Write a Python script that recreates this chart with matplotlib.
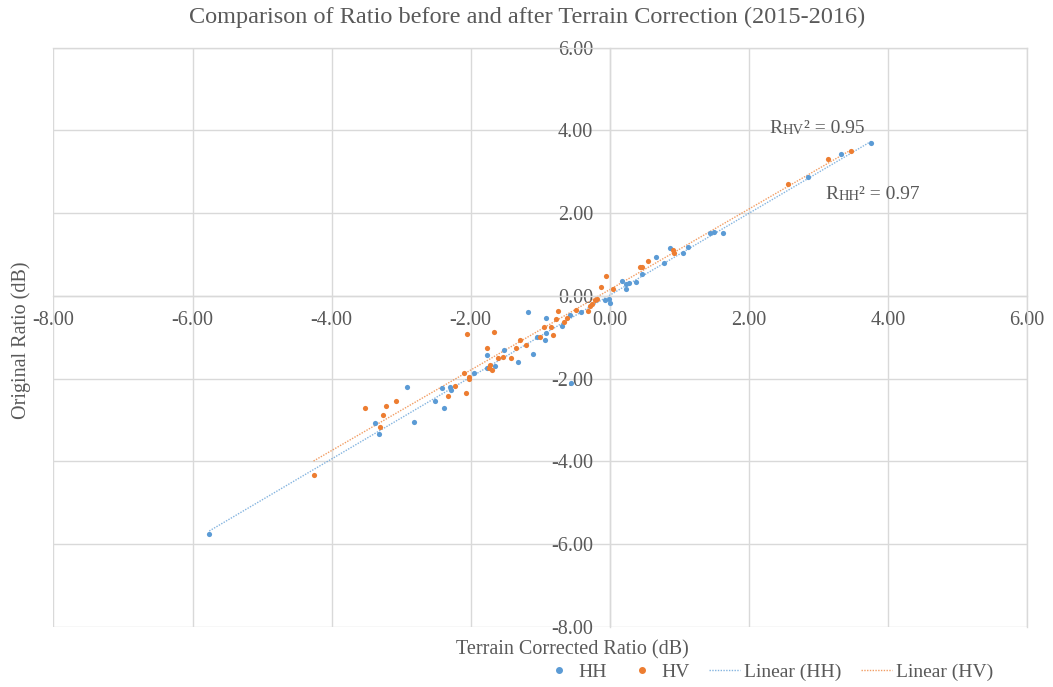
import numpy as np
import matplotlib
matplotlib.use("Agg")
import matplotlib.pyplot as plt
from matplotlib.lines import Line2D
from matplotlib.ticker import MultipleLocator, FuncFormatter

# Terrain corrected ratio (x) vs original ratio (y), dB
hh_x = [-5.76, -3.32, -3.38, -2.82, -2.91, -2.51, -2.38, -2.42, -2.30, -2.29,
        -1.95, -1.76, -1.65, -1.77, -1.52, -1.32, -1.10, -1.17, -1.05, -0.93,
        -0.91, -0.92, -0.69, -0.57, -0.41, -0.56, -0.07, -0.01, 0.00, 0.17,
        0.24, 0.24, 0.27, 0.37, 0.47, 0.67, 0.78, 0.87, 1.05, 1.13,
        1.44, 1.50, 1.63, 2.85, 3.32, 3.76]
hh_y = [-5.75, -3.33, -3.08, -3.05, -2.21, -2.53, -2.71, -2.23, -2.19, -2.28,
        -1.87, -1.74, -1.70, -1.42, -1.30, -1.59, -1.40, -0.39, -1.00, -1.06,
        -0.90, -0.54, -0.72, -0.46, -0.38, -2.11, -0.10, -0.07, -0.17, 0.37,
        0.29, 0.16, 0.32, 0.34, 0.52, 0.95, 0.79, 1.16, 1.03, 1.18,
        1.51, 1.55, 1.51, 2.88, 3.43, 3.70]

hv_x = [-4.26, -3.52, -3.30, -3.26, -3.22, -3.07, -2.32, -2.22, -2.07, -2.10,
        -2.02, -2.02, -2.06, -1.67, -1.77, -1.72, -1.69, -1.74, -1.61, -1.54,
        -1.42, -1.35, -1.29, -1.21, -1.00, -0.94, -0.84, -0.81, -0.77, -0.74,
        -0.66, -0.62, -0.48, -0.31, -0.28, -0.26, -0.21, -0.18, -0.12, -0.06,
        0.04, 0.43, 0.46, 0.55, 0.91, 0.93, 2.57, 3.14, 3.47]
hv_y = [-4.32, -2.71, -3.16, -2.87, -2.66, -2.53, -2.42, -2.18, -2.34, -1.87,
        -1.95, -2.00, -0.92, -0.87, -1.26, -1.66, -1.79, -1.75, -1.51, -1.48,
        -1.51, -1.26, -1.06, -1.19, -1.00, -0.74, -0.76, -0.94, -0.55, -0.36,
        -0.64, -0.53, -0.33, -0.37, -0.24, -0.20, -0.10, -0.08, 0.21, 0.47,
        0.16, 0.69, 0.71, 0.85, 1.11, 1.03, 2.71, 3.31, 3.50]

r2_hh = 0.97
r2_hv = 0.95

title = "Comparison of Ratio before and after Terrain Correction (2015-2016)"
x_title = "Terrain Corrected Ratio (dB)"
y_title = "Original Ratio (dB)"

BLUE = "#5B9BD5"
ORANGE = "#ED7D31"
TEXT = "#595959"
GRID = "#D9D9D9"

plt.rcParams["font.family"] = ["Liberation Serif", "DejaVu Serif"]

fig = plt.figure(figsize=(10.53, 6.87), dpi=100)
ax = fig.add_axes([0.0508, 0.0873, 0.9245, 0.8434])

ax.set_xlim(-8, 6)
ax.set_ylim(-8, 6)
ax.xaxis.set_major_locator(MultipleLocator(2))
ax.yaxis.set_major_locator(MultipleLocator(2))
fmt = FuncFormatter(lambda v, p: f"{v:.2f}")
ax.xaxis.set_major_formatter(fmt)
ax.yaxis.set_major_formatter(fmt)

ax.grid(True, color=GRID, lw=1.0)
ax.set_axisbelow(True)
for side in ("left", "bottom"):
    ax.spines[side].set_position(("data", 0))
    ax.spines[side].set_color(GRID)
    ax.spines[side].set_linewidth(1.0)
for side in ("top", "right"):
    ax.spines[side].set_color(GRID)
    ax.spines[side].set_linewidth(1.0)

ax.tick_params(axis="both", length=0, labelsize=14.5, labelcolor=TEXT)
ax.tick_params(axis="y", pad=12)
ax.tick_params(axis="x", pad=11)

# scatter series
ax.scatter(hh_x, hh_y, s=14, color=BLUE, zorder=3, linewidths=0)
ax.scatter(hv_x, hv_y, s=14, color=ORANGE, zorder=3, linewidths=0)

# linear trend lines over each series' x-range
for xs, ys, c in ((hh_x, hh_y, BLUE), (hv_x, hv_y, ORANGE)):
    xs = np.asarray(xs)
    k, b = np.polyfit(xs, ys, 1)
    xl = np.array([xs.min(), xs.max()])
    ax.plot(xl, k * xl + b, color=c, lw=1.0, ls=(0, (1, 1)), alpha=0.75, zorder=2)


def r2_label(x, y, sub, val):
    t1 = ax.text(x, y, "R", fontsize=14, color=TEXT, va="bottom", ha="left")
    t2 = ax.annotate(sub, xy=(1, 0), xycoords=t1, fontsize=10.5, color=TEXT,
                     va="bottom", ha="left")
    ax.annotate(f"\u00b2 = {val:.2f}", xy=(1, 0), xycoords=t2, fontsize=14,
                color=TEXT, va="bottom", ha="left")


r2_label(2.30, 3.85, "HV", r2_hv)
r2_label(3.10, 2.25, "HH", r2_hh)

fig.text(527 / 1053, 1 - 17 / 687, title, ha="center", va="center",
         fontsize=17.5, color=TEXT)
fig.text(572 / 1053, 1 - 650 / 687, x_title, ha="center", va="center",
         fontsize=14.5, color=TEXT)
fig.text(21 / 1053, 1 - 340 / 687, y_title, ha="center", va="center",
         rotation=90, fontsize=14.5, color=TEXT)

handles = [
    Line2D([], [], ls="none", marker="o", ms=4, color=BLUE),
    Line2D([], [], ls="none", marker="o", ms=4, color=ORANGE),
    Line2D([], [], color=BLUE, lw=1.0, ls=(0, (1, 1)), alpha=0.75),
    Line2D([], [], color=ORANGE, lw=1.0, ls=(0, (1, 1)), alpha=0.75),
]
labels = ["HH", "HV", "Linear (HH)", "Linear (HV)"]
leg = fig.legend(handles, labels, loc="center", ncol=4, frameon=False,
                 bbox_to_anchor=(768 / 1053, 1 - 672 / 687), fontsize=14,
                 handlelength=1.6, handletextpad=0.2, columnspacing=1.0,
                 labelcolor=TEXT)

fig.savefig("out.png", dpi=100)
